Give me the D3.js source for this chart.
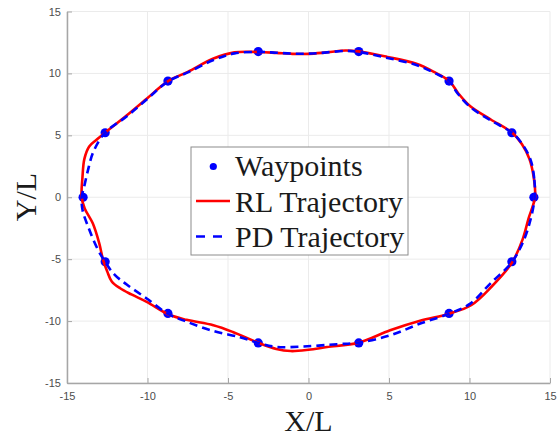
<!DOCTYPE html>
<html><head><meta charset="utf-8">
<script src="https://cdn.jsdelivr.net/npm/d3@7"></script>
<style>body{margin:0;background:#fff}svg{display:block}</style>
</head><body>
<svg id="c" width="557" height="440"></svg>
<script>
const xTicks = [-15,-10,-5,0,5,10,15];
const yTicks = [-15,-10,-5,0,5,10,15];
const seriesNames = ["Waypoints","RL Trajectory","PD Trajectory"];

const waypoints = [
 [14.0,0],[12.63,5.21],[8.73,9.38],[3.12,11.76],[-3.12,11.76],[-8.73,9.38],[-12.63,5.21],
 [-14.0,0],[-12.63,-5.21],[-8.73,-9.38],[-3.12,-11.76],[3.12,-11.76],[8.73,-9.38],[12.63,-5.21]
];

const rlTrajectory = [
 [14.07,0.0],[14.0,1.5],[13.72,3.1],[13.25,4.3],[12.64,5.22],[11.3,6.3],[10.05,7.35],[9.3,8.4],
 [8.75,9.38],[7.8,10.12],[6.7,10.78],[4.9,11.33],[3.12,11.78],[2.3,11.85],[1.0,11.68],[0.0,11.58],
 [-1.0,11.58],[-2.0,11.66],[-3.12,11.73],[-4.6,11.7],[-5.9,11.2],[-7.5,10.12],[-8.72,9.38],
 [-10.05,7.96],[-11.3,6.6],[-12.64,5.21],[-13.2,4.6],[-13.62,4.1],[-13.92,3.1],[-14.04,1.6],
 [-14.09,0.0],[-13.9,-0.9],[-13.4,-2.1],[-13.0,-3.7],[-12.75,-5.1],[-12.5,-6.0],[-12.22,-6.8],
 [-11.7,-7.35],[-11.0,-7.85],[-10.05,-8.45],[-8.72,-9.45],[-7.57,-9.9],[-5.91,-10.34],[-4.7,-10.88],
 [-3.12,-11.75],[-2.0,-12.25],[-1.1,-12.42],[0.0,-12.32],[1.15,-12.1],[3.12,-11.74],[5.07,-10.74],
 [6.93,-9.97],[8.75,-9.4],[10.1,-8.72],[11.35,-7.25],[12.63,-5.3],[13.3,-3.4],[13.67,-1.7]
];

const pdTrajectory = [
 [14.05,0.0],[14.02,1.5],[13.8,3.0],[13.3,4.25],[12.64,5.21],[11.3,6.22],[10.05,7.28],[9.25,8.4],
 [8.75,9.38],[7.8,10.05],[6.7,10.68],[4.9,11.25],[3.12,11.74],[2.3,11.82],[1.0,11.68],[0.0,11.6],
 [-1.0,11.6],[-2.0,11.67],[-3.12,11.74],[-4.6,11.62],[-5.9,11.08],[-7.5,10.08],[-8.72,9.36],
 [-10.05,7.9],[-11.3,6.52],[-12.64,5.21],[-13.37,3.65],[-13.7,2.17],[-13.94,0.82],[-14.09,0.0],
 [-14.03,-1.06],[-13.68,-2.4],[-13.16,-4.02],[-12.64,-5.21],[-12.05,-6.25],[-11.29,-7.05],
 [-10.05,-8.18],[-8.72,-9.42],[-7.57,-10.05],[-5.91,-10.8],[-4.25,-11.3],[-3.12,-11.77],
 [-1.98,-12.09],[-0.3,-12.05],[1.77,-11.87],[3.12,-11.74],[5.08,-11.15],[6.94,-10.2],[8.75,-9.4],
 [10.05,-8.59],[11.29,-6.97],[12.64,-5.23],[13.37,-3.48],[13.78,-1.86]
];

const svg = d3.select("#c");
const x = d3.scaleLinear().domain([-15,15]).range([67,550]);
const y = d3.scaleLinear().domain([-15,15]).range([383,11.5]);

// grid
const grid = svg.append("g");
grid.selectAll(".gx").data(xTicks).join("line")
  .attr("x1",d=>x(d)).attr("x2",d=>x(d)).attr("y1",y(-15)).attr("y2",y(15))
  .attr("stroke","#ebebeb").attr("stroke-width",1);
grid.selectAll(".gy").data(yTicks).join("line")
  .attr("y1",d=>y(d)).attr("y2",d=>y(d)).attr("x1",x(-15)).attr("x2",x(15))
  .attr("stroke","#ebebeb").attr("stroke-width",1);

// axes
const fmt = d => String(d);
const xAxis = svg.append("g").attr("transform",`translate(0,${y(-15)})`)
  .call(d3.axisBottom(x).tickValues(xTicks).tickFormat(fmt).tickSizeInner(-5).tickSizeOuter(0).tickPadding(7));
const yAxis = svg.append("g").attr("transform",`translate(${x(-15)},0)`)
  .call(d3.axisLeft(y).tickValues(yTicks).tickFormat(fmt).tickSizeInner(-5).tickSizeOuter(0).tickPadding(6));
[xAxis,yAxis].forEach(a=>{
  a.select(".domain").attr("stroke","#a6a6a6").attr("stroke-width",1.5);
  a.selectAll(".tick line").attr("stroke","#a6a6a6").attr("stroke-width",1);
  a.selectAll("text").attr("fill","#4d4d4d").style("font-family","'Liberation Sans',Arial,sans-serif").style("font-size","11px");
});
xAxis.selectAll("text").attr("dy","0.9em");

// waypoints
svg.append("g").selectAll("circle").data(waypoints).join("circle")
  .attr("cx",d=>x(d[0])).attr("cy",d=>y(d[1])).attr("r",4.6).attr("fill","#0000ff");

const line = d3.line().x(d=>x(d[0])).y(d=>y(d[1])).curve(d3.curveCatmullRomClosed.alpha(0.5));
svg.append("path").attr("d",line(rlTrajectory)).attr("fill","none")
  .attr("stroke","#ff0000").attr("stroke-width",2.6).attr("stroke-linejoin","round");
svg.append("path").attr("d",line(pdTrajectory)).attr("fill","none")
  .attr("stroke","#0000ff").attr("stroke-width",2.6).attr("stroke-dasharray","8,5");

// axis labels
const serif = "'Liberation Serif','Times New Roman',serif";
svg.append("text").attr("x",308.5).attr("y",431).attr("text-anchor","middle")
  .style("font-family",serif).style("font-size","30px").attr("fill","#1a1a1a").text("X/L");
svg.append("text").attr("transform","translate(36,197) rotate(-90)").attr("text-anchor","middle")
  .style("font-family",serif).style("font-size","30px").attr("fill","#1a1a1a").text("Y/L");

// legend
const lg = svg.append("g");
lg.append("rect").attr("x",191).attr("y",147).attr("width",217).attr("height",108)
  .attr("fill","#fff").attr("stroke","#8c8c8c").attr("stroke-width",1);
const rows = [176,211.5,246.5];
lg.append("circle").attr("cx",213.3).attr("cy",rows[0]-9.5).attr("r",3.6).attr("fill","#0000ff");
lg.append("line").attr("x1",196).attr("x2",230).attr("y1",rows[1]-10.5).attr("y2",rows[1]-10.5)
  .attr("stroke","#ff0000").attr("stroke-width",2.6);
lg.append("line").attr("x1",196).attr("x2",230).attr("y1",rows[2]-10).attr("y2",rows[2]-10)
  .attr("stroke","#0000ff").attr("stroke-width",2.6).attr("stroke-dasharray","9,8");
lg.selectAll("text.l").data(seriesNames).join("text")
  .attr("x",235).attr("y",(d,i)=>rows[i])
  .style("font-family",serif).style("font-size","30px").attr("fill","#1a1a1a").text(d=>d);
</script>
</body></html>
